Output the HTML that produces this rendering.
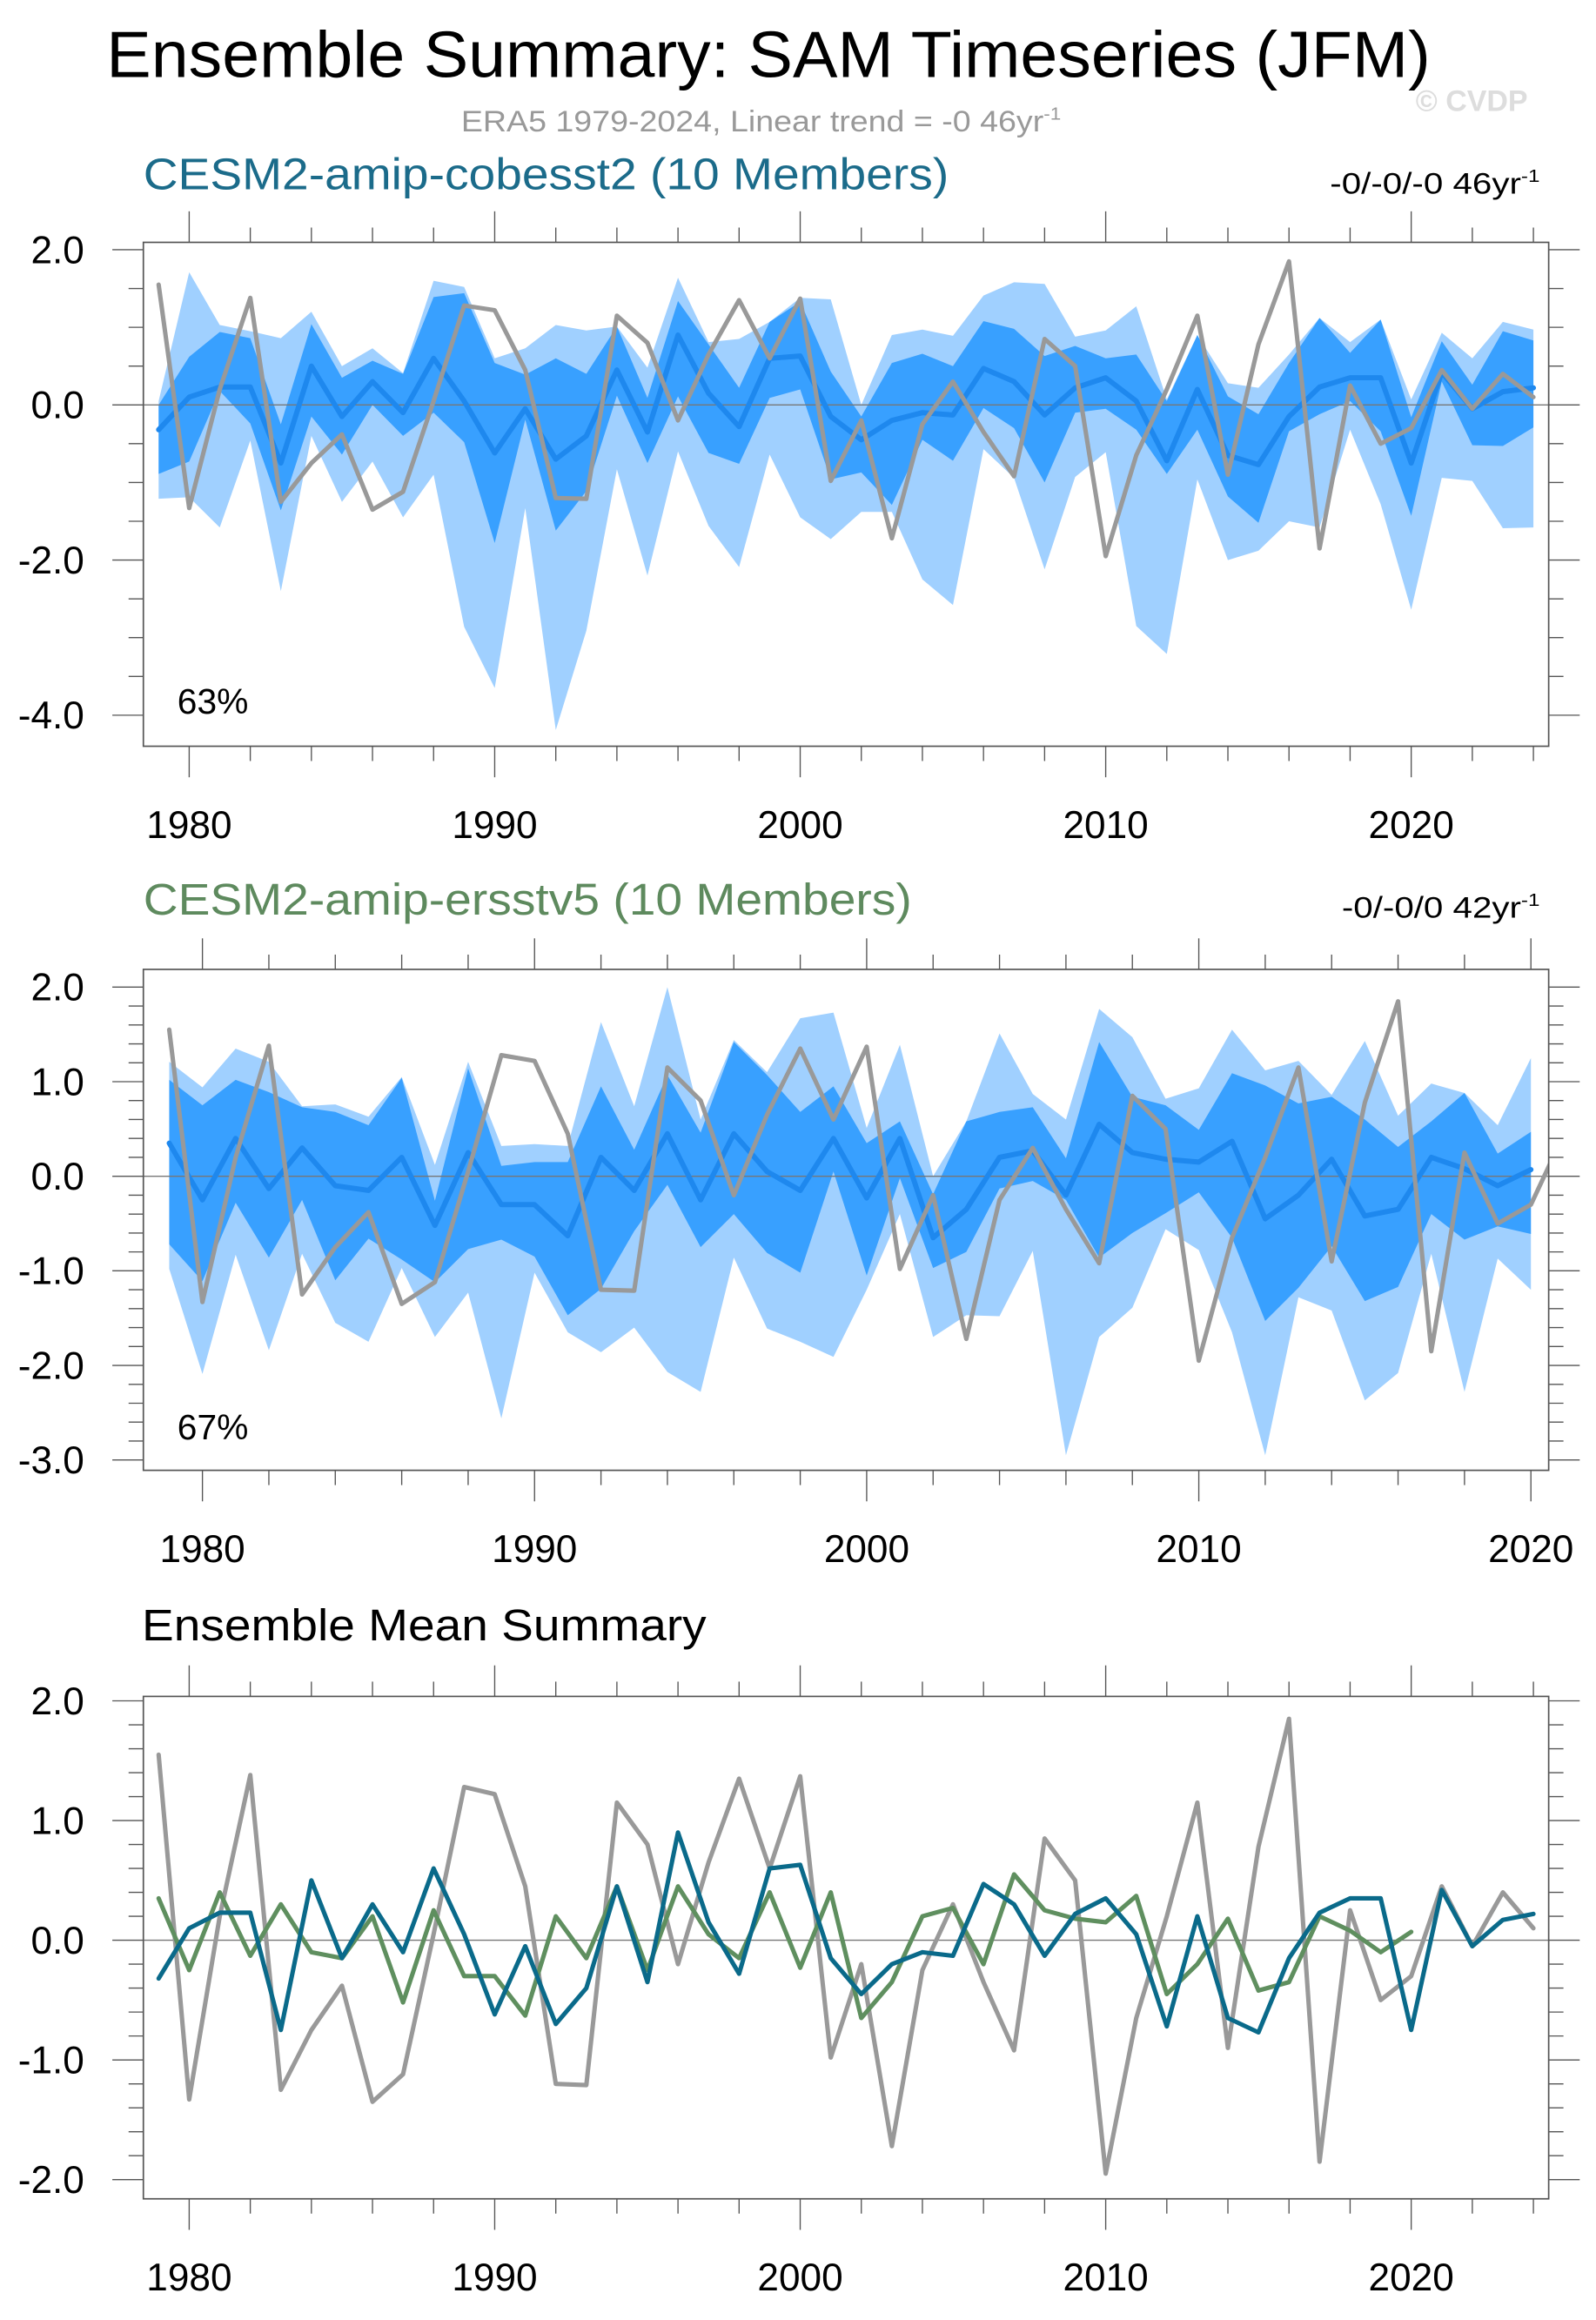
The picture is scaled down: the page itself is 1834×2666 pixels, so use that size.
<!DOCTYPE html>
<html><head><meta charset="utf-8"><style>
html,body{margin:0;padding:0;background:#fff;}
svg{display:block;font-family:"Liberation Sans",sans-serif;}
</style></head><body>
<svg id="fig" width="1834" height="2666" viewBox="0 0 1080 1570" xmlns="http://www.w3.org/2000/svg">
<text x="72" y="52" font-size="44" textLength="896" lengthAdjust="spacingAndGlyphs">Ensemble Summary: SAM Timeseries (JFM)</text>
<text x="312" y="89" font-size="20" fill="#999" textLength="406" lengthAdjust="spacingAndGlyphs">ERA5 1979-2024, Linear trend = -0 46yr<tspan dy="-8" font-size="12">-1</tspan></text>
<text x="958" y="75" font-size="20" font-weight="bold" fill="#ddd">© CVDP</text>
<text x="97" y="128" font-size="30" fill="#1b6b8a" textLength="545" lengthAdjust="spacingAndGlyphs">CESM2-amip-cobesst2 (10 Members)</text>
<text x="900" y="131" font-size="20" textLength="142" lengthAdjust="spacingAndGlyphs">-0/-0/-0 46yr<tspan dy="-8" font-size="12">-1</tspan></text>
<text x="97" y="619" font-size="30" fill="#5e8a5e" textLength="520" lengthAdjust="spacingAndGlyphs">CESM2-amip-ersstv5 (10 Members)</text>
<text x="908" y="621" font-size="20" textLength="134" lengthAdjust="spacingAndGlyphs">-0/-0/0 42yr<tspan dy="-8" font-size="12">-1</tspan></text>
<text x="96" y="1110" font-size="30" textLength="382" lengthAdjust="spacingAndGlyphs">Ensemble Mean Summary</text>
</svg>
<script>
const era5 = [1.55,-1.33,0.2,1.38,-1.25,-0.75,-0.38,-1.35,-1.12,0.05,1.28,1.22,0.45,-1.2,-1.21,1.15,0.8,-0.2,0.65,1.35,0.6,1.37,-0.98,-0.2,-1.72,-0.25,0.3,-0.35,-0.92,0.85,0.5,-1.95,-0.65,0.2,1.15,-0.9,0.78,1.85,-1.85,0.25,-0.5,-0.3,0.45,-0.05,0.4,0.1];
const cobMean = [-0.32,0.1,0.23,0.23,-0.75,0.5,-0.15,0.3,-0.1,0.6,0.05,-0.62,-0.05,-0.7,-0.4,0.45,-0.35,0.9,0.15,-0.28,0.6,0.63,-0.15,-0.45,-0.2,-0.1,-0.13,0.47,0.3,-0.13,0.22,0.35,0.05,-0.72,0.2,-0.65,-0.77,-0.15,0.23,0.35,0.35,-0.75,0.42,-0.05,0.17,0.22];
const erMean = [0.35,-0.25,0.4,-0.13,0.3,-0.1,-0.15,0.2,-0.52,0.25,-0.3,-0.3,-0.63,0.2,-0.15,0.45,-0.25,0.45,0.05,-0.15,0.4,-0.23,0.4,-0.65,-0.35,0.2,0.27,-0.2,0.55,0.25,0.18,0.15,0.37,-0.45,-0.2,0.18,-0.42,-0.35,0.2,0.08,-0.1,0.07];
const cobOutTop = [0.05,1.71,1.03,0.95,0.86,1.2,0.5,0.73,0.41,1.6,1.52,0.6,0.73,1.03,0.96,1.01,0.48,1.64,0.81,0.85,1.07,1.38,1.36,0,0.9,0.97,0.89,1.41,1.58,1.56,0.88,0.96,1.27,0.07,0.9,0.28,0.22,0.65,1.12,0.81,1.1,0.07,0.93,0.6,1.07,0.97];
const cobInTop = [0.0,0.62,0.94,0.86,-0.25,1.04,0.35,0.57,0.4,1.39,1.44,0.54,0.39,0.6,0.4,1.01,0.09,1.34,0.78,0.22,1.07,1.33,0.43,-0.15,0.54,0.66,0.5,1.08,0.98,0.63,0.76,0.6,0.65,0.05,0.9,0.11,-0.12,0.54,1.12,0.67,1.1,-0.16,0.82,0.26,0.95,0.83];
const cobInBot = [-0.89,-0.73,0.18,-0.24,-1.36,-0.15,-0.64,0,-0.4,-0.1,-0.48,-1.78,-0.19,-1.62,-1.11,0.12,-0.75,0.11,-0.62,-0.76,0.09,0.2,-0.96,-0.87,-1.29,-0.45,-0.72,-0.04,-0.3,-1.0,-0.1,-0.05,-0.32,-0.89,-0.32,-1.18,-1.52,-0.34,-0.12,0.05,-0.34,-1.43,0.3,-0.52,-0.53,-0.29];
const cobOutBot = [-1.21,-1.19,-1.58,-0.46,-2.4,-0.4,-1.25,-0.73,-1.45,-0.9,-2.86,-3.65,-1.33,-4.19,-2.91,-0.83,-2.2,-0.6,-1.56,-2.09,-0.64,-1.45,-1.73,-1.38,-1.38,-2.25,-2.58,-0.57,-0.94,-2.12,-0.93,-0.61,-2.85,-3.21,-0.96,-2.0,-1.88,-1.5,-1.58,-0.32,-1.28,-2.64,-0.94,-0.98,-1.59,-1.58];
const erOutTop = [1.21,0.94,1.35,1.21,0.74,0.76,0.63,1.05,0.12,1.21,0.32,0.34,0.32,1.63,0.74,2.0,0.6,1.44,1.1,1.67,1.73,0.51,1.39,0,0.58,1.51,0.87,0.6,1.77,1.47,0.82,0.93,1.55,1.12,1.22,0.86,1.43,0.64,0.98,0.88,0.54,1.25];
const erInTop = [1.02,0.75,1.02,0.89,0.73,0.68,0.54,1.04,-0.26,1.14,0.11,0.15,0.15,0.95,0.28,1.07,0.46,1.42,1.07,0.68,0.95,0.35,0.58,-0.19,0.58,0.68,0.73,0.19,1.42,0.84,0.75,0.49,1.09,0.96,0.77,0.84,0.6,0.31,0.58,0.88,0.24,0.47];
const erInBot = [-0.72,-1.11,-0.28,-0.86,-0.25,-1.1,-0.66,-0.88,-1.12,-0.77,-0.67,-0.85,-1.47,-1.19,-0.58,-0.09,-0.75,-0.4,-0.81,-1.02,0.05,-1.05,-0.02,-0.97,-0.8,-0.13,-0.05,-0.25,-0.86,-0.6,-0.39,-0.17,-0.65,-1.53,-1.18,-0.74,-1.32,-1.17,-0.4,-0.67,-0.53,-0.61];
const erOutBot = [-0.98,-2.09,-0.83,-1.84,-0.82,-1.55,-1.75,-0.97,-1.7,-1.23,-2.56,-1.02,-1.65,-1.86,-1.6,-2.07,-2.28,-0.86,-1.61,-1.75,-1.91,-1.2,-0.4,-1.7,-1.47,-1.48,-0.79,-2.95,-1.7,-1.39,-0.56,-0.78,-1.65,-2.95,-1.28,-1.42,-2.37,-2.08,-0.82,-2.28,-0.87,-1.2];
const startYear = 1979;
const p1YTicks = [2.0,0.0,-2.0,-4.0];
const p2YTicks = [2.0,1.0,0.0,-1.0,-2.0,-3.0];
const p3YTicks = [2.0,1.0,0.0,-1.0,-2.0];
const p1XTicks = [1980,1990,2000,2010,2020];
const p2XTicks = [1980,1990,2000,2010,2020];

const NS = "http://www.w3.org/2000/svg";
const svg = document.getElementById('fig');
function mk(tag, attrs, parent) {
  const e = document.createElementNS(NS, tag);
  for (const k in attrs) e.setAttribute(k, attrs[k]);
  (parent || svg).appendChild(e);
  return e;
}
function makePanel(id, box, xr, yr, yTicks, yMinor, xTicks) {
  const sx = y => box.x0 + (y - xr[0]) / (xr[1] - xr[0]) * (box.x1 - box.x0);
  const sy = v => box.y0 + (yr[1] - v) / (yr[1] - yr[0]) * (box.y1 - box.y0);
  const g = mk('g', {});
  
  
  const cp = mk('clipPath', {id: id + '-clip'}, g);
  mk('rect', {x: box.x0, y: box.y0, width: box.x1 - box.x0, height: box.y1 - box.y0}, cp);
  const plot = mk('g', {'clip-path': 'url(#' + id + '-clip)'}, g);
  
  
  const tg = mk('g', {stroke: '#555', 'stroke-width': 0.8}, g);
  
  
  for (let yy = Math.ceil(xr[0]); yy <= xr[1]; yy++) {
    if (yy % 2) continue;
    const major = yy % 10 === 0, L = major ? 21 : 10, x = sx(yy);
    mk('line', {x1: x, x2: x, y1: box.y1, y2: box.y1 + L}, tg);
    mk('line', {x1: x, x2: x, y1: box.y0, y2: box.y0 - L}, tg);
  }
  const vStart = Math.ceil(yr[0] / yMinor - 1e-6) * yMinor;
  for (let v = vStart; v <= yr[1] + 1e-6; v += yMinor) {
    const major = yTicks.some(t => Math.abs(t - v) < 1e-6), L = major ? 21 : 10, y = sy(v);
    mk('line', {x1: box.x0, x2: box.x0 - L, y1: y, y2: y}, tg);
    mk('line', {x1: box.x1, x2: box.x1 + L, y1: y, y2: y}, tg);
  }
  yTicks.forEach(t => {
    const tx = mk('text', {x: 57, y: sy(t) + 9, 'font-size': 26, 'text-anchor': 'end'}, g);
    
    
    tx.textContent = t.toFixed(1);
  });
  xTicks.forEach(t => {
    const tx = mk('text', {x: sx(t), y: box.y1 + 62, 'font-size': 26, 'text-anchor': 'middle'}, g);
    
    
    tx.textContent = t;
  });
  return {g, plot, sx, sy, box};
}
function band(p, top, bot, fill, name) {
  let d = top.map((v, i) => (i ? 'L' : 'M') + p.sx(startYear + i) + ',' + p.sy(v)).join('');
  for (let i = bot.length - 1; i >= 0; i--) d += 'L' + p.sx(startYear + i) + ',' + p.sy(bot[i]);
  const e = mk('path', {d: d + 'Z', fill: fill}, p.plot);
  
  
}
function line(p, vals, color, w, name) {
  const d = vals.map((v, i) => (i ? 'L' : 'M') + p.sx(startYear + i) + ',' + p.sy(v)).join('');
  const e = mk('path', {d: d, fill: 'none', stroke: color, 'stroke-width': w, 'stroke-linejoin': 'round', 'stroke-linecap': 'round'}, p.plot);
  
  
}
function zero(p) {
  const e = mk('line', {x1: p.box.x0, x2: p.box.x1, y1: p.sy(0), y2: p.sy(0), stroke: '#777', 'stroke-width': 0.8}, p.plot);
  
  
}
function frame(p) {
  const e = mk('rect', {x: p.box.x0, y: p.box.y0, width: p.box.x1 - p.box.x0, height: p.box.y1 - p.box.y0, fill: 'none', stroke: '#555', 'stroke-width': 1}, p.g);
  
  
}
const p1 = makePanel('panel1', {x0: 97, x1: 1048, y0: 164, y1: 505}, [1978.5, 2024.5], [2.0 - 336/52.5, 2.0 + 5/52.5], p1YTicks, 0.5, p1XTicks);
band(p1, cobOutTop, cobOutBot, '#a0d0ff', 'cobesst2-range-band');
band(p1, cobInTop, cobInBot, '#38a0ff', 'cobesst2-iqr-band');
zero(p1);
line(p1, cobMean, '#1e88ee', 3.5, 'cobesst2-ensemble-mean-line');
line(p1, era5, '#999', 3, 'era5-line');
frame(p1);
const p2 = makePanel('panel2', {x0: 97, x1: 1048, y0: 656, y1: 995}, [1979 - 17.5/22.475, 1979 + 933.5/22.475], [2.0 - 327/64, 2.0 + 12/64], p2YTicks, 0.2, p2XTicks);
band(p2, erOutTop, erOutBot, '#a0d0ff', 'ersstv5-range-band');
band(p2, erInTop, erInBot, '#38a0ff', 'ersstv5-iqr-band');
zero(p2);
line(p2, erMean, '#1e88ee', 3.5, 'ersstv5-ensemble-mean-line');
line(p2, era5, '#999', 3, 'era5-line');
frame(p2);
const p3 = makePanel('panel3', {x0: 97, x1: 1048, y0: 1148, y1: 1488}, [1978.5, 2024.5], [2.0 - 337/81, 2.0 + 3/81], p3YTicks, 0.2, p1XTicks);
zero(p3);
line(p3, era5, '#999', 3, 'era5-line');
line(p3, erMean, '#5f8f5f', 3, 'ersstv5-mean-line');
line(p3, cobMean, '#0a6a8a', 3, 'cobesst2-mean-line');
frame(p3);
[[p1, '63%', 483], [p2, '67%', 974]].forEach(([p, t, y]) => {
  const e = mk('text', {x: 120, y: y, 'font-size': 24}, p.g);
  
  
  e.textContent = t;
});
</script>
</body></html>
